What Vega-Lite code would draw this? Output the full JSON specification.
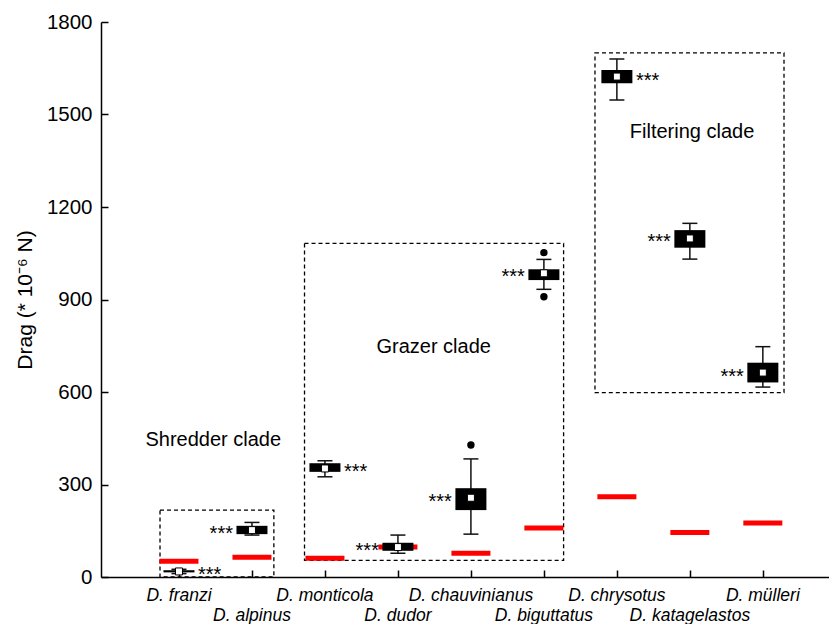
{
  "$schema": "https://vega.github.io/schema/vega-lite/v6.json",
  "autosize": {"type": "none"},
  "padding": {"left": 101, "top": 22, "right": 0, "bottom": 47},
  "width": 728,
  "height": 555,
  "background": "white",
  "config": {
    "view": {"stroke": null},
    "font": "Liberation Sans",
    "axis": {"grid": false, "domainColor": "black", "domainWidth": 1.5, "tickColor": "black", "tickWidth": 1.5, "tickSize": -7, "labelColor": "black", "titleColor": "black", "labelFont": "Liberation Sans", "titleFont": "Liberation Sans"},
    "axisY": {"labelPadding": 16, "labelFontSize": 20.5, "format": "d"},
    "axisX": {"labels": false}
  },
  "datasets": {
    "species": [
      {"pos": 1, "species": "D. franzi", "wlo": 11, "q1": 15, "med": 18, "q3": 22, "whi": 25, "ref": 51, "side": "right"},
      {"pos": 2, "species": "D. alpinus", "wlo": 136, "q1": 139, "med": 152, "q3": 166, "whi": 177, "ref": 64, "side": "left"},
      {"pos": 3, "species": "D. monticola", "wlo": 325, "q1": 341, "med": 352, "q3": 369, "whi": 377, "ref": 61, "side": "right"},
      {"pos": 4, "species": "D. dudor", "wlo": 77, "q1": 85, "med": 97, "q3": 111, "whi": 136, "ref": 97, "side": "left"},
      {"pos": 5, "species": "D. chauvinianus", "wlo": 139, "q1": 217, "med": 257, "q3": 288, "whi": 383, "ref": 77, "side": "left"},
      {"pos": 6, "species": "D. biguttatus", "wlo": 933, "q1": 963, "med": 985, "q3": 998, "whi": 1030, "ref": 159, "side": "left"},
      {"pos": 7, "species": "D. chrysotus", "wlo": 1547, "q1": 1601, "med": 1623, "q3": 1644, "whi": 1680, "ref": 260, "side": "right"},
      {"pos": 8, "species": "D. katagelastos", "wlo": 1031, "q1": 1068, "med": 1098, "q3": 1125, "whi": 1147, "ref": 144, "side": "left"},
      {"pos": 9, "species": "D. mülleri", "wlo": 616, "q1": 631, "med": 663, "q3": 695, "whi": 747, "ref": 175, "side": "left"}
    ],
    "outliers": [
      {"pos": 5, "value": 428},
      {"pos": 6, "value": 1052},
      {"pos": 6, "value": 909}
    ],
    "clades": [
      {"clade": "Shredder clade", "x1": 0.74, "x2": 2.3, "y1": 0, "y2": 217, "lx": 1.47, "ly": 444},
      {"clade": "Grazer clade", "x1": 2.72, "x2": 6.27, "y1": 54, "y2": 1082, "lx": 4.49, "ly": 746},
      {"clade": "Filtering clade", "x1": 6.7, "x2": 9.29, "y1": 598, "y2": 1700, "lx": 8.03, "ly": 1443}
    ]
  },
  "layer": [
    {
      "data": {"name": "clades"},
      "mark": {"type": "rect", "fill": null, "fillOpacity": 0, "stroke": "black", "strokeWidth": 1.3, "strokeDash": [4, 3]},
      "encoding": {
        "x": {"field": "x1", "type": "quantitative", "scale": {"domain": [0, 9.838], "nice": false, "zero": false},
              "axis": {"values": [1, 2, 3, 4, 5, 6, 7, 8, 9], "title": null}},
        "x2": {"field": "x2"},
        "y": {"field": "y1", "type": "quantitative", "scale": {"domain": [0, 1800], "nice": false},
              "axis": {"values": [0, 300, 600, 900, 1200, 1500, 1800], "title": "Drag (* 10⁻⁶ N)", "titleFontSize": 21, "titleFontWeight": "normal", "titlePadding": 11}},
        "y2": {"field": "y2"}
      }
    },
    {
      "mark": {"type": "rule", "color": "black", "strokeWidth": 1.5},
      "encoding": {"y": {"datum": 1800, "type": "quantitative"}}
    },
    {
      "data": {"name": "species"},
      "mark": {"type": "tick", "orient": "horizontal", "size": 39, "thickness": 5, "color": "#ff0000", "opacity": 1},
      "encoding": {"x": {"field": "pos", "type": "quantitative"}, "y": {"field": "ref", "type": "quantitative"}}
    },
    {
      "data": {"name": "species"},
      "mark": {"type": "rule", "color": "#111111", "strokeWidth": 1.5},
      "encoding": {"x": {"field": "pos", "type": "quantitative"}, "y": {"field": "wlo", "type": "quantitative"}, "y2": {"field": "whi"}}
    },
    {
      "data": {"name": "species"},
      "mark": {"type": "tick", "orient": "horizontal", "size": 15, "thickness": 1.5, "color": "#111111", "opacity": 1},
      "encoding": {"x": {"field": "pos", "type": "quantitative"}, "y": {"field": "wlo", "type": "quantitative"}}
    },
    {
      "data": {"name": "species"},
      "mark": {"type": "tick", "orient": "horizontal", "size": 15, "thickness": 1.5, "color": "#111111", "opacity": 1},
      "encoding": {"x": {"field": "pos", "type": "quantitative"}, "y": {"field": "whi", "type": "quantitative"}}
    },
    {
      "data": {"name": "species"},
      "mark": {"type": "bar", "size": 31, "color": "black"},
      "encoding": {"x": {"field": "pos", "type": "quantitative"}, "y": {"field": "q1", "type": "quantitative"}, "y2": {"field": "q3"}}
    },
    {
      "data": {"name": "species"},
      "mark": {"type": "point", "shape": "square", "size": 49, "filled": true, "fill": "white", "stroke": "black", "strokeWidth": 1, "opacity": 1},
      "encoding": {"x": {"field": "pos", "type": "quantitative"}, "y": {"field": "med", "type": "quantitative"}}
    },
    {
      "data": {"name": "outliers"},
      "mark": {"type": "circle", "size": 55, "color": "black", "opacity": 1},
      "encoding": {"x": {"field": "pos", "type": "quantitative"}, "y": {"field": "value", "type": "quantitative"}}
    },
    {
      "data": {"name": "species"},
      "transform": [{"filter": "datum.side == 'left'"}],
      "mark": {"type": "text", "text": "***", "align": "right", "baseline": "middle", "dx": -19, "dy": 4, "fontSize": 20, "color": "black"},
      "encoding": {"x": {"field": "pos", "type": "quantitative"}, "y": {"field": "med", "type": "quantitative"}}
    },
    {
      "data": {"name": "species"},
      "transform": [{"filter": "datum.side == 'right'"}],
      "mark": {"type": "text", "text": "***", "align": "left", "baseline": "middle", "dx": 19, "dy": 4, "fontSize": 20, "color": "black"},
      "encoding": {"x": {"field": "pos", "type": "quantitative"}, "y": {"field": "med", "type": "quantitative"}}
    },
    {
      "data": {"name": "clades"},
      "mark": {"type": "text", "align": "center", "baseline": "middle", "fontSize": 20, "color": "black"},
      "encoding": {"x": {"field": "lx", "type": "quantitative"}, "y": {"field": "ly", "type": "quantitative"}, "text": {"field": "clade"}}
    },
    {
      "data": {"name": "species"},
      "transform": [{"filter": "datum.pos % 2 == 1"}],
      "mark": {"type": "text", "align": "center", "baseline": "middle", "dy": 19, "fontSize": 17.5, "fontStyle": "italic", "color": "black"},
      "encoding": {"x": {"field": "pos", "type": "quantitative"}, "y": {"datum": 0, "type": "quantitative"}, "text": {"field": "species"}}
    },
    {
      "data": {"name": "species"},
      "transform": [{"filter": "datum.pos % 2 == 0"}],
      "mark": {"type": "text", "align": "center", "baseline": "middle", "dy": 39, "fontSize": 17.5, "fontStyle": "italic", "color": "black"},
      "encoding": {"x": {"field": "pos", "type": "quantitative"}, "y": {"datum": 0, "type": "quantitative"}, "text": {"field": "species"}}
    }
  ]
}
